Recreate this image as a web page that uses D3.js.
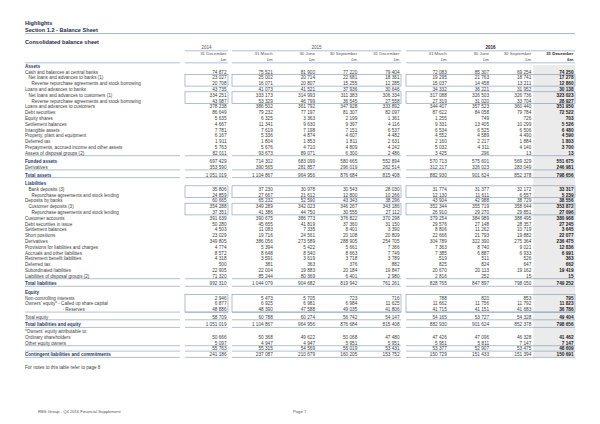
<!DOCTYPE html>
<html><head><meta charset="utf-8">
<script src="https://cdn.jsdelivr.net/npm/d3@7"></script>
<style>body{margin:0;background:#fff}svg{display:block}</style>
</head><body>
<svg id="c" width="600" height="424"></svg>
<script>
// ---------- DATA ----------
const years = ["2014", "2015", "2016"];
const periods = ["31 December","31 March","30 June","30 September","31 December","31 March","30 June","30 September","31 December"];
const periodYear = ["2014","2015","2015","2015","2015","2016","2016","2016","2016"];
const unitLabel = "£m";

const rowLabels = [
 "Assets",
 "Cash and balances at central banks",
 "Net loans and advances to banks (1)",
 "Reverse repurchase agreements and stock borrowing",
 "Loans and advances to banks",
 "Net loans and advances to customers (1)",
 "Reverse repurchase agreements and stock borrowing",
 "Loans and advances to customers",
 "Debt securities",
 "Equity shares",
 "Settlement balances",
 "Intangible assets",
 "Property, plant and equipment",
 "Deferred tax",
 "Prepayments, accrued income and other assets",
 "Assets of disposal groups (2)",
 "Funded assets",
 "Derivatives",
 "Total assets",
 "Liabilities",
 "Bank deposits (3)",
 "Repurchase agreements and stock lending",
 "Deposits by banks",
 "Customer deposits (3)",
 "Repurchase agreements and stock lending",
 "Customer accounts",
 "Debt securities in issue",
 "Settlement balances",
 "Short positions",
 "Derivatives",
 "Provisions for liabilities and charges",
 "Accruals and other liabilities",
 "Retirement benefit liabilities",
 "Deferred tax",
 "Subordinated liabilities",
 "Liabilities of disposal groups (2)",
 "Total liabilities",
 "Equity",
 "Non-controlling interests",
 "Owners' equity* - Called up share capital",
 "- Reserves",
 "Total equity",
 "Total liabilities and equity",
 "*Owners' equity attributable to:",
 "Ordinary shareholders",
 "Other equity owners",
 "",
 "Contingent liabilities and commitments"
];

const dec2014 = [null,74872,23027,20708,43735,334251,43987,378238,86649,5635,4667,7781,6167,1911,5763,82011,697429,353590,1051019,
 null,35806,24859,60665,354288,37351,391639,50280,4503,23029,349805,4774,8572,4318,500,22905,71320,992310,
 null,2946,6877,48886,58709,1051019,null,50666,5097,55763,241186];
const mar2015 = [null,75521,25002,16071,41073,333173,53329,386502,79232,6325,11341,7619,5336,1804,5676,93673,714302,390565,1104867,
 null,37230,27667,65232,349289,41386,390675,45655,11083,19716,386056,5394,8648,3591,381,22004,85244,1044079,
 null,5473,6925,48390,60788,1104867,null,50368,4947,55315,237087];
const jun2015 = [null,81900,20714,20807,41521,314993,46799,361792,77197,3363,9630,7198,4874,1853,4710,89071,683099,281857,964956,
 null,30978,21612,52590,342023,44750,386773,41819,7335,24561,273589,5422,8540,3619,363,19883,80369,904682,
 null,5705,6981,47588,60274,964956,null,49622,4947,54569,210679];
const sep2015 = [null,77220,22681,15255,37936,311383,36545,347928,81307,2199,9397,7151,4607,1811,4809,6300,580665,296019,876684,
 null,30543,12800,43343,346267,30555,376822,37360,8401,20108,288905,5661,8663,3718,376,20184,6401,819942,
 null,723,6984,49035,56742,876684,null,50068,5951,56019,160205];
const dec2015 = [null,79404,18361,12285,30646,306334,27558,333892,82097,1361,4116,6537,4482,2631,4242,2486,552894,262514,815408,
 null,28030,10266,38296,343186,27112,370298,31150,3390,20809,254705,7366,7749,3789,882,19847,2980,761261,
 null,716,11625,41806,54147,815408,null,47480,5951,53431,153752];
const mar2016 = [null,72083,19295,15037,34332,317088,27319,344407,87622,1255,9331,6534,4552,2160,5032,3425,570713,312217,882930,
 null,31774,12130,43904,352344,26910,379254,29576,8806,22666,304789,7363,7385,519,825,20670,2816,828765,
 null,788,11662,41715,54165,882930,null,47426,5951,53377,150729];
const jun2016 = [null,85307,21763,14458,36221,326503,31020,357523,84058,749,13405,6525,4589,2217,4311,296,575601,326023,901624,
 null,31377,11611,42988,355719,29270,384989,27148,11262,21793,322390,8740,6887,511,824,20113,252,847897,
 null,820,11756,41151,53727,901624,null,47096,5811,52907,151433];
const sep2016 = [null,69254,18741,13211,31952,326736,33704,360440,79784,726,10299,6506,4490,1884,4140,13,569329,283049,852378,
 null,32172,6557,38729,358644,29851,388495,28357,10719,19882,275364,9021,6933,526,647,19162,15,798050,
 null,853,11792,41683,54328,852378,null,46328,7147,53475,151394];
const dec2016 = [null,74250,17278,12860,30138,323023,28927,351950,72522,703,5526,6480,4590,1803,3700,13,551675,246981,798656,
 null,33317,5239,38556,353872,27096,380968,27245,3645,22077,236475,12836,6991,363,662,19419,15,749252,
 null,795,11823,36786,49404,798656,null,41462,7147,48609,150691];

const columns = [dec2014, mar2015, jun2015, sep2015, dec2015, mar2016, jun2016, sep2016, dec2016];

// ---------- STYLE / LAYOUT ----------
const headRows = new Set([0, 19, 37]);
const totalRows = new Set([16, 18, 36, 42, 47]);
const sub1Rows = new Set([2, 5, 20, 23]);
const sub2Rows = new Set([3, 6, 21, 24]);
const boxes = [[2,3],[5,6],[20,21],[23,24],[38,40]];
const linesAfter = [15, 17, 18, 35, 36, 40, 41, 42, 45, 46, 47];
const extraStep = {16: 8.4, 18: 7.7, 19: 8.3, 36: 7.6, 37: 8.4, 41: 7.7, 42: 7.6, 43: 6.7, 46: 5.4, 47: 6.3};

const FONT = "'Liberation Sans', Arial, Helvetica, sans-serif";
const TXT = "#3d3d3d", NAVY = "#1f3a6b", LINE = "#7d93b3", GREYBG = "#ebebeb";

const rowY = [];
rowLabels.forEach((d, i) => {
  rowY.push(i === 0 ? 66 : rowY[i - 1] + (extraStep[i] || 5.8));
});

const svg = d3.select("#c");
const groupRange = d3.scaleOrdinal().domain(years).range([[185, 228], [232, 401], [406, 575]]);
const labelRange = [25, 180];

// per-group band scales for columns
const colIdxByYear = {};
periodYear.forEach((y, i) => { (colIdxByYear[y] = colIdxByYear[y] || []).push(i); });
const bandByYear = {};
years.forEach(y => {
  bandByYear[y] = d3.scaleBand().domain(colIdxByYear[y]).range(groupRange(y));
});
const colRight = i => { const b = bandByYear[periodYear[i]]; return b(i) + b.bandwidth() - 1.5; };
const colLeft = i => bandByYear[periodYear[i]](i);
const colW = i => bandByYear[periodYear[i]].bandwidth();

const fmt = v => d3.format(",")(v).replace(/,/g, " ");

// grey highlight for last column
const last = periods.length - 1;
svg.append("rect").attr("x", colLeft(last) + 0.5).attr("y", 65)
  .attr("width", colW(last) - 0.5).attr("height", rowY[47] + 2.5 - 65).attr("fill", GREYBG);

// titles
svg.append("text").attr("x", 25).attr("y", 25.3).text("Highlights")
  .attr("font-family", FONT).attr("font-size", 5.6).attr("font-weight", "bold").attr("fill", "#1d2c4c");
svg.append("text").attr("x", 25).attr("y", 32).text("Section 1.2 - Balance Sheet")
  .attr("font-family", FONT).attr("font-size", 5.6).attr("font-weight", "bold").attr("fill", "#1d2c4c");
svg.append("line").attr("x1", 25).attr("x2", 575).attr("y1", 33.6).attr("y2", 33.6)
  .attr("stroke", LINE).attr("stroke-width", 0.7);
svg.append("text").attr("x", 25).attr("y", 44.2).text("Consolidated balance sheet")
  .attr("font-family", FONT).attr("font-size", 5.6).attr("font-weight", "bold").attr("fill", "#1d2c4c");

// year headers
years.forEach(y => {
  const r = groupRange(y);
  svg.append("text").attr("x", (r[0] + r[1]) / 2).attr("y", 49.4).attr("text-anchor", "middle")
    .text(y).attr("font-family", FONT).attr("font-size", 4.5)
    .attr("font-weight", y === "2016" ? "bold" : "normal").attr("fill", y === "2016" ? "#222" : "#555");
  svg.append("line").attr("x1", r[0]).attr("x2", r[1]).attr("y1", 50.8).attr("y2", 50.8)
    .attr("stroke", LINE).attr("stroke-width", 0.6);
});

// period headers
periods.forEach((p, i) => {
  const bold = i === last;
  svg.append("text").attr("x", colRight(i)).attr("y", 55).attr("text-anchor", "end").text(p)
    .attr("font-family", FONT).attr("font-size", 4.4).attr("font-weight", bold ? "bold" : "normal")
    .attr("fill", bold ? "#222" : "#555");
  svg.append("text").attr("x", colRight(i)).attr("y", 61).attr("text-anchor", "end").text(unitLabel)
    .attr("font-family", FONT).attr("font-size", 4.4).attr("font-weight", bold ? "bold" : "normal")
    .attr("fill", bold ? "#222" : "#555");
});

function segLine(y) {
  [labelRange, ...years.map(groupRange)].forEach(r => {
    svg.append("line").attr("x1", r[0]).attr("x2", r[1]).attr("y1", y).attr("y2", y)
      .attr("stroke", LINE).attr("stroke-width", 0.6);
  });
}
segLine(62.8);
linesAfter.forEach(i => segLine(rowY[i] + 2.7));

// boxes
boxes.forEach(([a, b]) => {
  years.forEach(y => {
    const r = groupRange(y);
    svg.append("rect").attr("x", r[0]).attr("y", rowY[a] - 3.2)
      .attr("width", r[1] - r[0]).attr("height", rowY[b] + 2.7 - (rowY[a] - 3.2))
      .attr("fill", "none").attr("stroke", LINE).attr("stroke-width", 0.6);
  });
});

// row labels
rowLabels.forEach((lab, i) => {
  if (!lab) return;
  let x = 25;
  if (sub1Rows.has(i)) x = 28.5;
  if (sub2Rows.has(i)) x = 31.5;
  if (i === 40) x = 62.5;
  if (i === 38 || i === 39) x = 25;
  const isHead = headRows.has(i), isTot = totalRows.has(i);
  svg.append("text").attr("x", x).attr("y", rowY[i] + 1.7).text(lab)
    .attr("font-family", FONT).attr("font-size", 4.6)
    .attr("font-weight", isHead || isTot ? "bold" : "normal")
    .attr("fill", isHead || isTot ? NAVY : TXT);
});

// values
columns.forEach((col, ci) => {
  col.forEach((v, ri) => {
    if (v === null || v === undefined) return;
    svg.append("text").attr("x", colRight(ci)).attr("y", rowY[ri] + 1.7)
      .attr("text-anchor", "end").text(fmt(v))
      .attr("font-family", FONT).attr("font-size", 4.7)
      .attr("font-weight", ci === last ? "bold" : "normal")
      .attr("fill", ci === last ? "#1a1a1a" : TXT);
  });
});

// notes and footer
svg.append("text").attr("x", 25).attr("y", 369.3).text("For notes to this table refer to page 8")
  .attr("font-family", FONT).attr("font-size", 4.6).attr("fill", TXT);
svg.append("text").attr("x", 38).attr("y", 412.5).text("RBS Group - Q4 2016 Financial Supplement")
  .attr("font-family", FONT).attr("font-size", 4.2).attr("fill", "#555");
svg.append("text").attr("x", 293).attr("y", 412.5).text("Page 7")
  .attr("font-family", FONT).attr("font-size", 4.2).attr("fill", "#555");
</script>
</body></html>
